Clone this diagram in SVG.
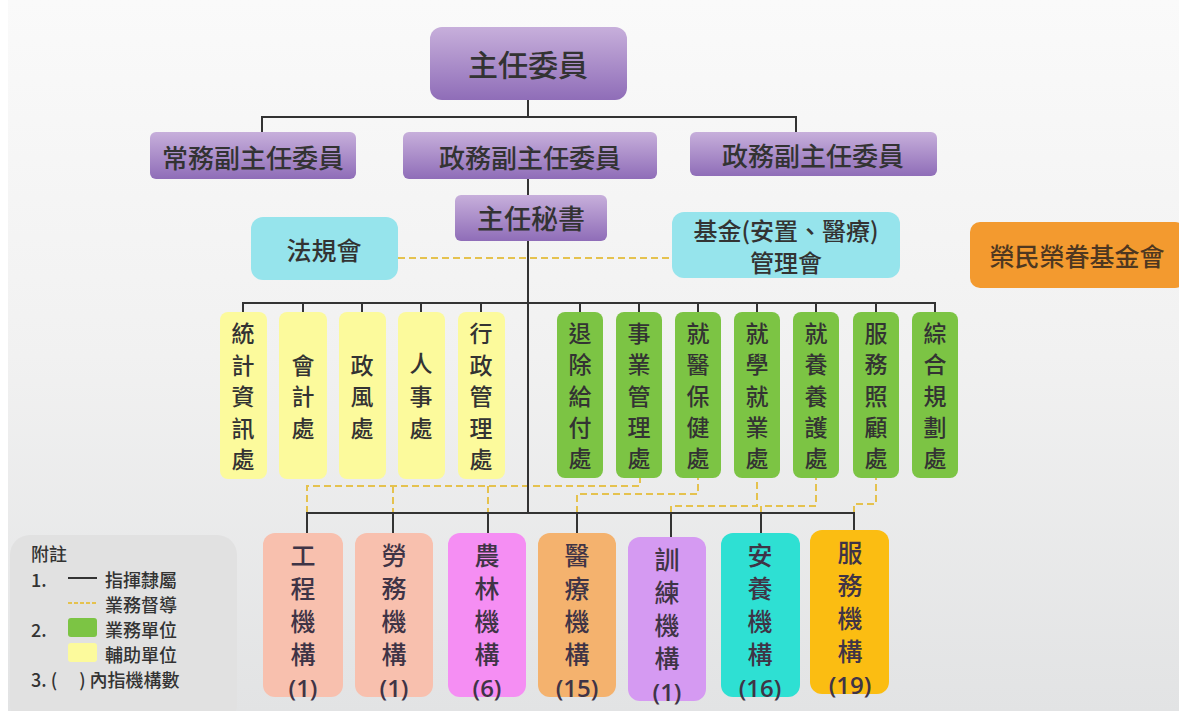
<svg xmlns="http://www.w3.org/2000/svg" width="1179" height="711" viewBox="0 0 1179 711">
<defs>
<linearGradient id="bg" x1="0" y1="0" x2="0" y2="1">
<stop offset="0" stop-color="#fafafa"/>
<stop offset="0.5" stop-color="#f1f1f1"/>
<stop offset="1" stop-color="#e2e3e4"/>
</linearGradient>
<linearGradient id="purple" x1="0" y1="0" x2="0" y2="1">
<stop offset="0" stop-color="#c7afdb"/>
<stop offset="1" stop-color="#8f6db8"/>
</linearGradient>
<style>
text{font-family:"Noto Sans CJK TC","Noto Sans CJK SC",sans-serif;font-weight:500;fill:#333;text-anchor:middle;dominant-baseline:central}
.pu{fill:url(#purple)}
.cy{fill:#96e4ec}
.ye{fill:#fcfa9c}
.gr{fill:#7cc444}
.ln{fill:none;stroke:#333;stroke-width:2}
.da{fill:none;stroke:#e5c24e;stroke-width:2;stroke-dasharray:7 4}
.v{font-size:23px}
.b{font-size:25px;fill:#3f3446}
.n{font-family:"Open Sans","Noto Sans",sans-serif;font-size:24px;font-weight:600;fill:#3f3446}
.lg{font-size:18px;text-anchor:start}
</style>
</defs>
<rect width="1179" height="711" fill="url(#bg)"/>
<rect width="8" height="711" fill="#ffffff"/>

<g id="connectors">
<path class="da" d="M398 258H672"/>
<path class="da" d="M307 513V486H640V478M393 486V513M488 486V513"/>
<path class="da" d="M577 513V494H698V478"/>
<path class="da" d="M671 513V506H757V478"/>
<path class="da" d="M761 513V506H816V478"/>
<path class="da" d="M854 513V504H876V478"/>
<path class="ln" d="M528 100V117M262 133V117H796V133"/>
<path class="ln" d="M528 179V195M528 241V513"/>
<path class="ln" d="M243 312V303H935V312M303 303V312M362 303V312M421 303V312M481 303V312M580 303V312M639 303V312M698 303V312M757 303V312M816 303V312M876 303V312"/>
<path class="ln" d="M307 533V513H854V530M393 513V533M488 513V533M577 513V533M671 513V537M761 513V533"/>
</g>

<g id="chair"><rect class="pu" x="430" y="27" width="197" height="73" rx="12"/><text x="528" y="63" font-size="30">主任委員</text></g>
<g id="dep1"><rect class="pu" x="150" y="132" width="206" height="47" rx="6"/><text x="253" y="156" font-size="26">常務副主任委員</text></g>
<g id="dep2"><rect class="pu" x="403" y="132" width="254" height="47" rx="6"/><text x="530" y="156" font-size="26">政務副主任委員</text></g>
<g id="dep3"><rect class="pu" x="690" y="132" width="247" height="44" rx="6"/><text x="813" y="154" font-size="26">政務副主任委員</text></g>
<g id="secretary"><rect class="pu" x="455" y="195" width="152" height="46" rx="6"/><text x="531" y="217" font-size="27">主任秘書</text></g>
<g id="law"><rect class="cy" x="251" y="217" width="147" height="63" rx="12"/><text x="324" y="249" font-size="25">法規會</text></g>
<g id="fund"><rect class="cy" x="672" y="212" width="228" height="66" rx="12"/><text x="786" y="229" font-size="24">基金(安置、醫療)</text><text x="786" y="261" font-size="24">管理會</text></g>
<g id="vetfund"><rect x="970" y="222" width="215" height="66" rx="10" fill="#f39a2f"/><text x="1077" y="255" font-size="25" style="fill:#4e3720">榮民榮眷基金會</text></g>

<g id="d1"><rect class="ye" x="220" y="312" width="47" height="167" rx="8"/><text class="v"><tspan x="243" y="332">統</tspan><tspan x="243" y="364">計</tspan><tspan x="243" y="395">資</tspan><tspan x="243" y="427">訊</tspan><tspan x="243" y="458">處</tspan></text></g>
<g id="d2"><rect class="ye" x="279" y="312" width="48" height="167" rx="8"/><text class="v"><tspan x="303" y="364">會</tspan><tspan x="303" y="395">計</tspan><tspan x="303" y="427">處</tspan></text></g>
<g id="d3"><rect class="ye" x="339" y="312" width="47" height="167" rx="8"/><text class="v"><tspan x="362" y="364">政</tspan><tspan x="362" y="395">風</tspan><tspan x="362" y="427">處</tspan></text></g>
<g id="d4"><rect class="ye" x="398" y="312" width="47" height="167" rx="8"/><text class="v"><tspan x="421" y="362">人</tspan><tspan x="421" y="395">事</tspan><tspan x="421" y="427">處</tspan></text></g>
<g id="d5"><rect class="ye" x="458" y="312" width="47" height="167" rx="8"/><text class="v"><tspan x="481" y="332">行</tspan><tspan x="481" y="364">政</tspan><tspan x="481" y="395">管</tspan><tspan x="481" y="427">理</tspan><tspan x="481" y="458">處</tspan></text></g>

<g id="g1"><rect class="gr" x="557" y="312" width="46" height="166" rx="8"/><text class="v"><tspan x="580" y="332">退</tspan><tspan x="580" y="363">除</tspan><tspan x="580" y="395">給</tspan><tspan x="580" y="426">付</tspan><tspan x="580" y="457">處</tspan></text></g>
<g id="g2"><rect class="gr" x="616" y="312" width="46" height="166" rx="8"/><text class="v"><tspan x="639" y="332">事</tspan><tspan x="639" y="363">業</tspan><tspan x="639" y="395">管</tspan><tspan x="639" y="426">理</tspan><tspan x="639" y="457">處</tspan></text></g>
<g id="g3"><rect class="gr" x="675" y="312" width="46" height="166" rx="8"/><text class="v"><tspan x="698" y="332">就</tspan><tspan x="698" y="363">醫</tspan><tspan x="698" y="395">保</tspan><tspan x="698" y="426">健</tspan><tspan x="698" y="457">處</tspan></text></g>
<g id="g4"><rect class="gr" x="734" y="312" width="46" height="166" rx="8"/><text class="v"><tspan x="757" y="332">就</tspan><tspan x="757" y="363">學</tspan><tspan x="757" y="395">就</tspan><tspan x="757" y="426">業</tspan><tspan x="757" y="457">處</tspan></text></g>
<g id="g5"><rect class="gr" x="793" y="312" width="46" height="166" rx="8"/><text class="v"><tspan x="816" y="332">就</tspan><tspan x="816" y="363">養</tspan><tspan x="816" y="395">養</tspan><tspan x="816" y="426">護</tspan><tspan x="816" y="457">處</tspan></text></g>
<g id="g6"><rect class="gr" x="853" y="312" width="46" height="166" rx="8"/><text class="v"><tspan x="876" y="332">服</tspan><tspan x="876" y="363">務</tspan><tspan x="876" y="395">照</tspan><tspan x="876" y="426">顧</tspan><tspan x="876" y="457">處</tspan></text></g>
<g id="g7"><rect class="gr" x="912" y="312" width="46" height="166" rx="8"/><text class="v"><tspan x="935" y="332">綜</tspan><tspan x="935" y="363">合</tspan><tspan x="935" y="395">規</tspan><tspan x="935" y="426">劃</tspan><tspan x="935" y="457">處</tspan></text></g>

<g id="b1"><rect x="263" y="533" width="80" height="164" rx="12" fill="#f8c0ae"/><text class="b"><tspan x="303" y="554">工</tspan><tspan x="303" y="587">程</tspan><tspan x="303" y="620">機</tspan><tspan x="303" y="653">構</tspan></text><text class="n" x="303" y="687">(1)</text></g>
<g id="b2"><rect x="355" y="533" width="78" height="164" rx="12" fill="#f8c0ae"/><text class="b"><tspan x="394" y="554">勞</tspan><tspan x="394" y="587">務</tspan><tspan x="394" y="620">機</tspan><tspan x="394" y="653">構</tspan></text><text class="n" x="394" y="687">(1)</text></g>
<g id="b3"><rect x="448" y="533" width="78" height="164" rx="12" fill="#f58ef3"/><text class="b"><tspan x="487" y="554">農</tspan><tspan x="487" y="587">林</tspan><tspan x="487" y="620">機</tspan><tspan x="487" y="653">構</tspan></text><text class="n" x="487" y="687">(6)</text></g>
<g id="b4"><rect x="538" y="533" width="78" height="164" rx="12" fill="#f4b26e"/><text class="b"><tspan x="577" y="554">醫</tspan><tspan x="577" y="587">療</tspan><tspan x="577" y="620">機</tspan><tspan x="577" y="653">構</tspan></text><text class="n" x="577" y="687">(15)</text></g>
<g id="b5"><rect x="628" y="537" width="78" height="164" rx="12" fill="#d59af2"/><text class="b"><tspan x="667" y="558">訓</tspan><tspan x="667" y="591">練</tspan><tspan x="667" y="624">機</tspan><tspan x="667" y="657">構</tspan></text><text class="n" x="667" y="691">(1)</text></g>
<g id="b6"><rect x="721" y="533" width="79" height="164" rx="12" fill="#2ee0d3"/><text class="b"><tspan x="760" y="554">安</tspan><tspan x="760" y="587">養</tspan><tspan x="760" y="620">機</tspan><tspan x="760" y="653">構</tspan></text><text class="n" x="760" y="687">(16)</text></g>
<g id="b7"><rect x="810" y="530" width="79" height="164" rx="12" fill="#fbbd12"/><text class="b"><tspan x="850" y="551">服</tspan><tspan x="850" y="584">務</tspan><tspan x="850" y="617">機</tspan><tspan x="850" y="650">構</tspan></text><text class="n" x="850" y="684">(19)</text></g>

<g id="legend">
<rect x="10" y="535" width="227" height="190" rx="20" fill="#e1e1e1"/>
<text class="lg" x="31" y="553">附註</text>
<text class="lg" x="31" y="579">1.</text>
<path d="M68 578H97" stroke="#333" stroke-width="2"/>
<text class="lg" x="105" y="579">指揮隸屬</text>
<path d="M68 603H97" stroke="#e5c24e" stroke-width="2" stroke-dasharray="4 2"/>
<text class="lg" x="105" y="604">業務督導</text>
<text class="lg" x="31" y="629">2.</text>
<rect x="68" y="618" width="29" height="19" rx="3" fill="#7cc444"/>
<text class="lg" x="105" y="629">業務單位</text>
<rect x="68" y="643" width="29" height="19" rx="3" fill="#fcfa9c"/>
<text class="lg" x="105" y="654">輔助單位</text>
<text class="lg" x="31" y="679">3. (　 ) 內指機構數</text>
</g>
</svg>
